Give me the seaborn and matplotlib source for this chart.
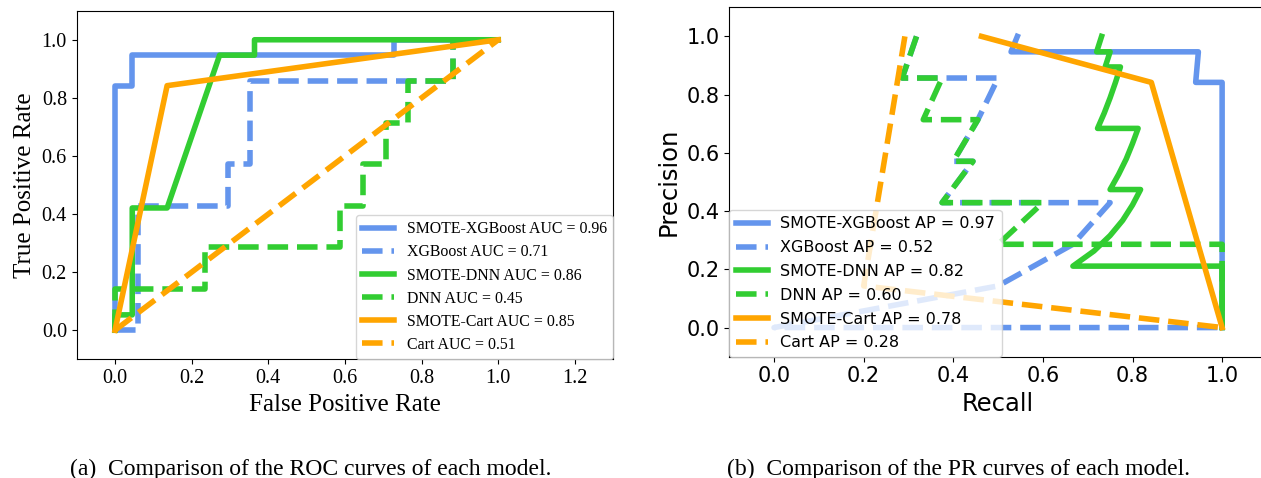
import seaborn as sns
import matplotlib.pyplot as plt

# ROC curves (fpr, tpr)
roc_smote_xgb_x = [0, 0, 0.045, 0.045, 0.727, 0.727, 1.0]
roc_smote_xgb_y = [0, 0.842, 0.842, 0.947, 0.947, 1.0, 1.0]
roc_xgb_x = [0, 0.059, 0.059, 0.294, 0.294, 0.353, 0.353, 0.882, 0.882, 1.0]
roc_xgb_y = [0, 0, 0.429, 0.429, 0.571, 0.571, 0.857, 0.857, 1.0, 1.0]
roc_smote_dnn_x = [0, 0, 0.045, 0.045, 0.136, 0.273, 0.364, 0.364, 1.0]
roc_smote_dnn_y = [0, 0.053, 0.053, 0.421, 0.421, 0.947, 0.947, 1.0, 1.0]
roc_dnn_x = [0, 0, 0.235, 0.235, 0.588, 0.588, 0.647, 0.647, 0.706, 0.706,
             0.765, 0.765, 0.882, 0.882, 1.0]
roc_dnn_y = [0, 0.143, 0.143, 0.286, 0.286, 0.429, 0.429, 0.571, 0.571, 0.714,
             0.714, 0.857, 0.857, 1.0, 1.0]
roc_smote_cart_x = [0, 0.136, 1.0]
roc_smote_cart_y = [0, 0.842, 1.0]
roc_cart_x = [0, 1.0]
roc_cart_y = [0, 1.0]

roc_labels = ["SMOTE-XGBoost AUC = 0.96", "XGBoost AUC = 0.71",
              "SMOTE-DNN AUC = 0.86", "DNN AUC = 0.45",
              "SMOTE-Cart AUC = 0.85", "Cart AUC = 0.51"]

# PR curves as drawn (x axis "Recall", y axis "Precision")
pr_smote_xgb_x = [0.543, 0.529, 0.947, 0.941, 1.0, 1.0]
pr_smote_xgb_y = [1.0, 0.947, 0.947, 0.842, 0.842, 0.0]
pr_xgb_x = [0.318, 0.286, 0.5, 0.455, 0.4, 0.444, 0.375, 0.75, 0.667, 0.5, 0.0, 1.0]
pr_xgb_y = [1.0, 0.857, 0.857, 0.714, 0.571, 0.571, 0.429, 0.429, 0.286, 0.143, 0.0, 0.0]
pr_smote_dnn_x = [0.731, 0.72, 0.75, 0.739, 0.773, 0.762, 0.75, 0.737, 0.722, 0.8125,
                  0.8, 0.786, 0.769, 0.75, 0.818, 0.8, 0.778, 0.75, 0.714, 0.667,
                  1.0, 1.0]
pr_smote_dnn_y = [1.0, 0.947, 0.947, 0.895, 0.895, 0.842, 0.789, 0.737, 0.684, 0.684,
                  0.632, 0.579, 0.526, 0.474, 0.474, 0.421, 0.368, 0.316, 0.263, 0.211,
                  0.211, 0.0]
pr_dnn_x = [0.318, 0.286, 0.375, 0.333, 0.455, 0.4, 0.444, 0.375, 0.6, 0.5, 1.0, 1.0]
pr_dnn_y = [1.0, 0.857, 0.857, 0.714, 0.714, 0.571, 0.571, 0.429, 0.429, 0.286, 0.286, 0.0]
pr_smote_cart_x = [0.463, 0.842, 1.0]
pr_smote_cart_y = [1.0, 0.842, 0.0]
pr_cart_x = [0.292, 0.2, 1.0]
pr_cart_y = [1.0, 0.143, 0.0]

pr_labels = ["SMOTE-XGBoost AP = 0.97", "XGBoost AP = 0.52",
             "SMOTE-DNN AP = 0.82", "DNN AP = 0.60",
             "SMOTE-Cart AP = 0.78", "Cart AP = 0.28"]

colors = ["cornflowerblue", "cornflowerblue", "limegreen", "limegreen", "orange", "orange"]
styles = ["-", "--", "-", "--", "-", "--"]

roc_curves = [(roc_smote_xgb_x, roc_smote_xgb_y), (roc_xgb_x, roc_xgb_y),
              (roc_smote_dnn_x, roc_smote_dnn_y), (roc_dnn_x, roc_dnn_y),
              (roc_smote_cart_x, roc_smote_cart_y), (roc_cart_x, roc_cart_y)]
pr_curves = [(pr_smote_xgb_x, pr_smote_xgb_y), (pr_xgb_x, pr_xgb_y),
             (pr_smote_dnn_x, pr_smote_dnn_y), (pr_dnn_x, pr_dnn_y),
             (pr_smote_cart_x, pr_smote_cart_y), (pr_cart_x, pr_cart_y)]

serif = "Liberation Serif"
sans = "DejaVu Sans"

fig = plt.figure(figsize=(12.61, 4.78), dpi=100)
ax1 = fig.add_axes([0.0608, 0.2483, 0.4255, 0.7293])
ax2 = fig.add_axes([0.5783, 0.2538, 0.4264, 0.7310])

for (x, y), lab, c, ls in zip(roc_curves, roc_labels, colors, styles):
    sns.lineplot(x=x, y=y, ax=ax1, color=c, linestyle=ls, lw=4, label=lab,
                 sort=False, estimator=None)

for (x, y), lab, c, ls in zip(pr_curves, pr_labels, colors, styles):
    sns.lineplot(x=x, y=y, ax=ax2, color=c, linestyle=ls, lw=4, label=lab,
                 sort=False, estimator=None)

# left: ROC
ax1.set_xlim(-0.1, 1.3)
ax1.set_ylim(-0.1, 1.1)
ax1.set_xticks([0, 0.2, 0.4, 0.6, 0.8, 1.0, 1.2])
ax1.set_yticks([0, 0.2, 0.4, 0.6, 0.8, 1.0])
ax1.set_xlabel("False Positive Rate", fontsize=18, family=serif)
ax1.set_ylabel("True Positive Rate", fontsize=18, family=serif)
for t in ax1.get_xticklabels() + ax1.get_yticklabels():
    t.set_family(serif)
    t.set_fontsize(14.5)
ax1.legend(loc="lower right", borderaxespad=0,
           prop={"family": serif, "size": 11.4}, labelspacing=0.45)

# right: PR
ax2.set_xlim(-0.1, 1.1)
ax2.set_ylim(-0.1, 1.1)
ax2.set_xticks([0, 0.2, 0.4, 0.6, 0.8, 1.0])
ax2.set_yticks([0, 0.2, 0.4, 0.6, 0.8, 1.0])
ax2.set_xlabel("Recall", fontsize=17.5, family=sans)
ax2.set_ylabel("Precision", fontsize=17.5, family=sans)
ax2.tick_params(labelsize=15)
ax2.legend(loc="lower left", borderaxespad=0,
           prop={"family": sans, "size": 11.5}, labelspacing=0.55)

fig.text(0.2462, 0.0188, "(a)  Comparison of the ROC curves of each model.",
         ha="center", va="center", family=serif, fontsize=17)
fig.text(0.760, 0.0188, "(b)  Comparison of the PR curves of each model.",
         ha="center", va="center", family=serif, fontsize=17)

fig.savefig("out.png", dpi=100)
